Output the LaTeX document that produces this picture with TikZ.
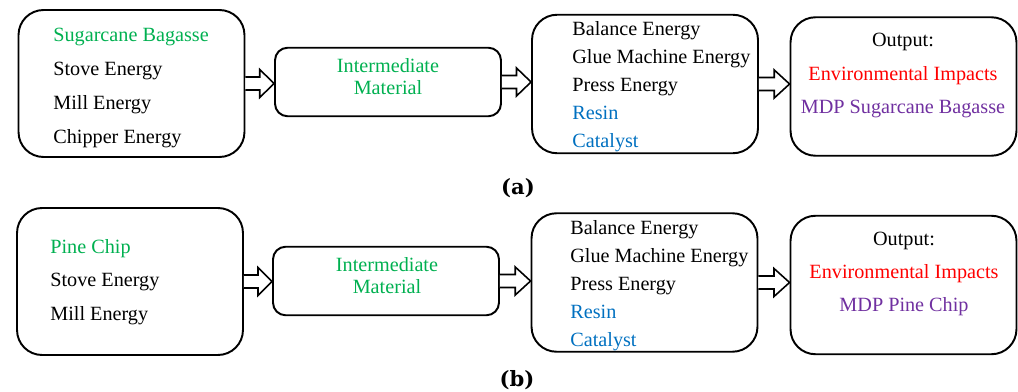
\documentclass[tikz,border=0pt]{standalone}
\usepackage{fontspec}
\setmainfont{Liberation Serif}
\newfontfamily\capfont{DejaVu Serif}
\usetikzlibrary{calc}
\definecolor{matgreen}{RGB}{0,176,80}
\definecolor{addblue}{RGB}{0,112,192}
\definecolor{impred}{RGB}{255,0,0}
\definecolor{mdppurple}{RGB}{112,48,160}
\tikzset{
  stage/.style={draw, line width=1.1pt, rounded corners=0.5cm, minimum width=4.52cm, inner sep=0pt},
  inbox/.style={stage, minimum height=2.94cm},
  midbox/.style={stage, rounded corners=0.25cm, minimum height=1.37cm},
  outbox/.style={stage, minimum height=2.77cm},
  widelist/.style={align=left, anchor=west, inner sep=0pt, font=\fontsize{11.5}{19.2}\selectfont},
  tightlist/.style={align=left, anchor=west, inner sep=0pt, font=\fontsize{11.5}{15.9}\selectfont},
  midlist/.style={align=center, inner sep=0pt, font=\fontsize{11.5}{12.2}\selectfont},
  outlist/.style={align=center, inner sep=0pt, font=\fontsize{11.5}{18.8}\selectfont},
  caption/.style={inner sep=0pt, font=\capfont\bfseries\fontsize{12}{14}\selectfont},
  hollowarrow/.style={draw, line width=0.9pt, fill=white, line join=miter}
}
\newcommand{\flowarrow}[2]{%
  \coordinate (arrowtip) at (#2.west |- #1.east);
  \coordinate (arrowmid) at ($(#1.east)!0.5!(arrowtip)$);
  \draw[hollowarrow] ($(#1.east)+(0,-6.5)$) -- ($(arrowmid)+(0,-6.5)$) -- ($(arrowmid)+(0,-14)$)
    -- (arrowtip) -- ($(arrowmid)+(0,14)$) -- ($(arrowmid)+(0,6.5)$) -- ($(#1.east)+(0,6.5)$);
}
\begin{document}
\begin{tikzpicture}[x=0.02cm, y=-0.02cm]
  \useasboundingbox (0,0) rectangle (1018,392);
  \node[inbox] (feedA) at (131.5,83.5) {};
  \node[midbox] (interA) at (388,82) {};
  \node[outbox] (boardA) at (645,84) {};
  \node[outbox] (outA) at (903.5,86.5) {};
  \node[widelist] (feedAtext) at (53,88) {\textcolor{matgreen}{Sugarcane Bagasse}\\ Stove Energy\\ Mill Energy\\ Chipper Energy};
  \node[midlist, text=matgreen] (interAtext) at (388,76.5) {Intermediate\\ Material};
  \node[tightlist] (boardAtext) at (572,87) {Balance Energy\\ Glue Machine Energy\\ Press Energy\\ \textcolor{addblue}{Resin}\\ \textcolor{addblue}{Catalyst}};
  \node[outlist] (outAtext) at (903,75.5) {Output:\\ \textcolor{impred}{Environmental Impacts}\\ \textcolor{mdppurple}{MDP Sugarcane Bagasse}};
  \flowarrow{feedA}{interA}
  \flowarrow{interA}{boardA}
  \flowarrow{boardA}{outA}
  \node[caption] (capA) at (518,188) {(a)};

  \node[inbox] (feedB) at (130,281.5) {};
  \node[midbox] (interB) at (386,281) {};
  \node[outbox] (boardB) at (644.5,282.5) {};
  \node[outbox] (outB) at (903.5,285) {};
  \node[widelist] (feedBtext) at (50,282) {\textcolor{matgreen}{Pine Chip}\\ Stove Energy\\ Mill Energy};
  \node[midlist, text=matgreen] (interBtext) at (387,275.5) {Intermediate\\ Material};
  \node[tightlist] (boardBtext) at (570,286) {Balance Energy\\ Glue Machine Energy\\ Press Energy\\ \textcolor{addblue}{Resin}\\ \textcolor{addblue}{Catalyst}};
  \node[outlist] (outBtext) at (904,273.5) {Output:\\ \textcolor{impred}{Environmental Impacts}\\ \textcolor{mdppurple}{MDP Pine Chip}};
  \flowarrow{feedB}{interB}
  \flowarrow{interB}{boardB}
  \flowarrow{boardB}{outB}
  \node[caption] (capB) at (517,380) {(b)};
\end{tikzpicture}
\end{document}
